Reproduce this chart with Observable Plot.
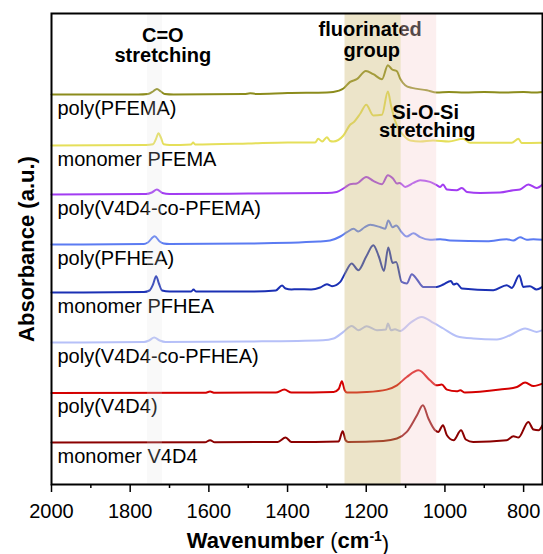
<!DOCTYPE html>
<html><head><meta charset="utf-8">
<script src="https://cdn.jsdelivr.net/npm/d3@7"></script>
<script src="https://cdn.jsdelivr.net/npm/@observablehq/plot@0.6"></script>
<style>body{margin:0;background:#fff} svg{display:block}</style>
</head><body><div id="chart"></div>
<script>
// Series (top to bottom)
const seriesNames = ["poly(PFEMA)", "monomer PFEMA", "poly(V4D4-co-PFEMA)", "poly(PFHEA)",
  "monomer PFHEA", "poly(V4D4-co-PFHEA)", "poly(V4D4)", "monomer V4D4"];
const seriesColors = ["#8c8c1c", "#e5df5a", "#a23cf2", "#5b7bf2", "#1b30b4", "#b6c0f8", "#d40000", "#8b0000"];
// vertical stacking offsets (a.u.)
const baselineOffsets = [3.9, 3.39, 2.9, 2.4, 1.92, 1.42, 0.915, 0.42];

// [wavenumber (cm-1), absorbance above own baseline (a.u.)]
const polyPFEMA = [[2000,0],[1780,0],[1755,0.005],[1742,0.03],[1732,0.056],[1722,0.03],[1712,0.005],[1690,0],[1510,0.004],[1495,0.012],[1480,0.006],[1400,0.015],[1300,0.02],[1284,0.025],[1258,0.06],[1241,0.126],[1224,0.153],[1201,0.236],[1182,0.203],[1160,0.153],[1145,0.293],[1135,0.253],[1122,0.233],[1114,0.16],[1101,0.093],[1084,0.066],[1046,0.043],[1021,0.02],[990,0.025],[950,0.02],[900,0.025],[850,0.02],[800,0.025],[775,0.02],[752,0.026]];
const monomerPFEMA = [[2000,0],[1760,0.005],[1742,0.012],[1735,0.06],[1728,0.123],[1722,0.08],[1715,0.012],[1700,0.005],[1645,0.01],[1640,0.03],[1635,0.01],[1500,0.02],[1400,0.03],[1330,0.03],[1322,0.067],[1312,0.04],[1300,0.083],[1292,0.045],[1284,0.04],[1258,0.1],[1241,0.207],[1232,0.233],[1215,0.32],[1200,0.407],[1182,0.3],[1160,0.307],[1145,0.54],[1137,0.4],[1127,0.25],[1115,0.15],[1105,0.1],[1088,0.05],[1063,0.04],[1030,0.05],[990,0.04],[954,0.067],[936,0.027],[880,0.027],[830,0.027],[813,0.067],[805,0.025],[752,0.027]];
const polyV4D4coPFEMA = [[2000,0],[1760,0.005],[1745,0.02],[1732,0.05],[1718,0.015],[1700,0.005],[1500,0.01],[1300,0.016],[1275,0.026],[1254,0.07],[1241,0.103],[1224,0.11],[1200,0.176],[1182,0.136],[1160,0.103],[1145,0.193],[1132,0.16],[1122,0.11],[1115,0.116],[1101,0.076],[1080,0.116],[1063,0.143],[1038,0.126],[1021,0.093],[1012,0.076],[1005,0.1],[995,0.05],[970,0.043],[957,0.066],[944,0.026],[910,0.016],[860,0.02],[826,0.043],[809,0.05],[788,0.1],[767,0.066],[752,0.1]];
const polyPFHEA = [[2000,0],[1765,0.005],[1755,0.02],[1738,0.083],[1725,0.03],[1715,0.01],[1700,0.005],[1500,0.01],[1320,0.03],[1292,0.04],[1266,0.08],[1249,0.123],[1232,0.157],[1220,0.13],[1205,0.17],[1190,0.197],[1164,0.173],[1152,0.157],[1144,0.24],[1133,0.173],[1124,0.19],[1110,0.123],[1097,0.08],[1080,0.113],[1063,0.073],[1038,0.047],[1012,0.053],[987,0.04],[893,0.033],[843,0.053],[826,0.04],[809,0.073],[792,0.047],[775,0.053],[752,0.047]];
const monomerPFHEA = [[2000,0],[1765,0.005],[1751,0.02],[1742,0.08],[1734,0.163],[1727,0.09],[1719,0.02],[1700,0.01],[1645,0.01],[1639,0.03],[1633,0.01],[1500,0.01],[1430,0.02],[1414,0.07],[1405,0.04],[1390,0.03],[1376,0.033],[1340,0.03],[1317,0.05],[1300,0.083],[1287,0.063],[1266,0.106],[1254,0.19],[1237,0.29],[1220,0.223],[1200,0.36],[1182,0.473],[1168,0.36],[1155,0.216],[1144,0.45],[1133,0.296],[1124,0.306],[1110,0.106],[1097,0.09],[1084,0.183],[1071,0.13],[1055,0.056],[1021,0.056],[1004,0.08],[985,0.116],[978,0.08],[970,0.09],[957,0.04],[877,0.023],[843,0.073],[830,0.046],[811,0.173],[801,0.056],[784,0.063],[767,0.03],[752,0.056]];
const polyV4D4coPFHEA = [[2000,0],[1765,0.005],[1752,0.02],[1739,0.05],[1725,0.02],[1710,0.005],[1500,0.01],[1310,0.023],[1283,0.04],[1258,0.106],[1237,0.166],[1220,0.123],[1199,0.163],[1173,0.123],[1150,0.13],[1145,0.19],[1137,0.123],[1127,0.133],[1114,0.116],[1088,0.196],[1059,0.256],[1029,0.196],[1004,0.14],[970,0.063],[928,0.04],[868,0.03],[834,0.073],[796,0.14],[767,0.106],[752,0.123]];
const polyV4D4 = [[2000,0],[1610,0.002],[1597,0.014],[1585,0.002],[1430,0.005],[1408,0.034],[1390,0.005],[1283,0.01],[1270,0.04],[1262,0.117],[1255,0.03],[1249,0.004],[1199,0.01],[1148,0.034],[1122,0.077],[1097,0.16],[1067,0.227],[1038,0.127],[1021,0.077],[1008,0.084],[995,0.034],[970,0.017],[961,0.027],[949,0.004],[860,0.034],[817,0.06],[796,0.104],[775,0.07],[752,0.094]];
const monomerV4D4 = [[2000,0],[1610,0.002],[1597,0.023],[1585,0.002],[1425,0.005],[1405,0.05],[1390,0.005],[1270,0.01],[1260,0.113],[1252,0.02],[1246,0.006],[1157,0.016],[1122,0.04],[1097,0.106],[1071,0.273],[1056,0.373],[1042,0.24],[1025,0.123],[1017,0.106],[1005,0.173],[995,0.073],[978,0.023],[959,0.123],[947,0.03],[928,0.006],[843,0.023],[826,0.063],[813,0.05],[788,0.206],[775,0.13],[762,0.123],[752,0.173]];

const majorTicks = [2000, 1800, 1600, 1400, 1200, 1000, 800];
const minorTicks = [1900, 1700, 1500, 1300, 1100, 900];
const bandNames = ["C=O stretching", "fluorinated group", "Si-O-Si stretching"];
const bandStart = [1756, 1254, 1111];
const bandEnd = [1718, 1111, 1021];

const spectra = [polyPFEMA, monomerPFEMA, polyV4D4coPFEMA, polyPFHEA, monomerPFHEA, polyV4D4coPFHEA, polyV4D4, monomerV4D4];
const rows = spectra.flatMap((s, i) => s.map(([wn, a]) => ({wn, a: a + baselineOffsets[i], series: seriesNames[i]})));
const labelRows = seriesNames.map((n, i) => ({name: n, wn: 2000, y: baselineOffsets[i]}));
const bands = bandNames.map((n, i) => ({name: n, x1: bandStart[i], x2: bandEnd[i]}));

const font = "'Liberation Sans', Arial, Helvetica, sans-serif";
const bold = {fontSize: 20, fontWeight: "bold", fill: "black", lineAnchor: "bottom", textAnchor: "middle"};

const chart = Plot.plot({
  width: 543, height: 554,
  marginTop: 13, marginBottom: 70, marginLeft: 51, marginRight: 1,
  style: {fontFamily: font, background: "white", color: "black", overflow: "visible"},
  x: {domain: [2000, 752], axis: null},
  y: {domain: [0, 4.71], axis: null},
  color: {domain: seriesNames, range: seriesColors},
  marks: [
    Plot.line(rows, {x: "wn", y: "a", z: "series", stroke: "series", strokeWidth: 2, curve: "monotone-x"}),
    Plot.text(labelRows, {x: "wn", y: "y", text: "name", dx: 6, dy: 20, textAnchor: "start", lineAnchor: "bottom", fontSize: 20, fill: "black"}),
    Plot.rect([bands[1]], {x1: "x1", x2: "x2", fill: "#cdb970", fillOpacity: 0.38}),
    Plot.rect([bands[0]], {x1: "x1", x2: "x2", fill: "#e2e2e2", fillOpacity: 0.2}),
    Plot.text(["C=O"], {...bold, x: () => 1717, y: () => 4.423}),
    Plot.text(["stretching"], {...bold, x: () => 1717, y: () => 4.223}),
    Plot.text(["fluorinated"], {...bold, x: () => 1190, y: () => 4.49}),
    Plot.text(["group"], {...bold, x: () => 1186, y: () => 4.273}),
    Plot.rect([bands[2]], {x1: "x1", x2: "x2", fill: "#f6d0d0", fillOpacity: 0.35}),
    Plot.text(["Si-O-Si"], {...bold, x: () => 1049, y: () => 3.657}),
    Plot.text(["stretching"], {...bold, x: () => 1045, y: () => 3.473}),
    Plot.axisX(majorTicks, {tickSize: 8, tickPadding: 11, fontSize: 20, tickFormat: d => String(d), label: null, strokeWidth: 1.5}),
    Plot.axisX(minorTicks, {tickSize: 4, tickFormat: () => "", label: null, strokeWidth: 1.5}),
    Plot.frame({stroke: "black", strokeWidth: 2}),
    Plot.text(["Wavenumber (cm-1)"], {frameAnchor: "bottom", dy: 63, dx: -9, lineAnchor: "bottom", textAnchor: "middle", fontSize: 22, fontWeight: "bold", fill: "black"}),
    Plot.text(["Absorbance (a.u.)"], {frameAnchor: "left", rotate: -90, dx: -18, lineAnchor: "bottom", textAnchor: "middle", fontSize: 22, fontWeight: "bold", fill: "black"})
  ]
});

d3.select(chart).selectAll("text").filter(function() { return this.textContent === "Wavenumber (cm-1)"; }).each(function() {
  const t = d3.select(this);
  t.text(null);
  t.append("tspan").text("Wavenumber ");
  t.append("tspan").attr("font-weight", "normal").text("(");
  t.append("tspan").text("cm");
  t.append("tspan").attr("dy", "-0.45em").attr("font-size", "14").text("-1");
  t.append("tspan").attr("dy", "0.45em").attr("font-weight", "normal").text(")");
});

document.getElementById("chart").appendChild(chart);
</script>
</body></html>
